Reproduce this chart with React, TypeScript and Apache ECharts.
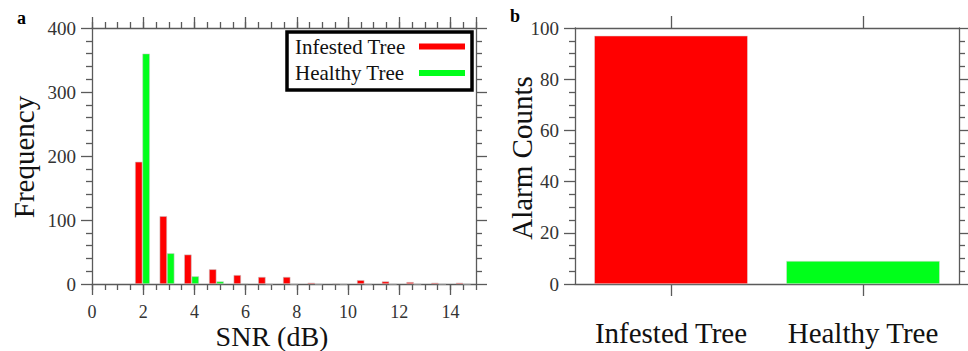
import React, { useEffect, useRef } from "react";
import * as echarts from "echarts";

const binCenters = [1.97, 2.93, 3.89, 4.86, 5.82, 6.78, 7.75, 8.71, 9.68, 10.64, 11.61, 12.57, 13.54, 14.5];
const infestedFreq = [191, 106, 46, 23, 14, 11, 11, 2, 1, 6, 4, 3, 2, 2];
const healthyFreq = [360, 48, 12, 4, 1, 0, 0, 0, 0, 0, 0, 0, 0, 0];
const treeCategories = ["Infested Tree", "Healthy Tree"];
const alarmCounts = [97, 9];
const legendLabels = ["Infested Tree", "Healthy Tree"];

const RED = "#ff0000";
const GREEN = "#00ff1a";
const AXIS = "#5a5a5a";
const FONT = "'Liberation Serif', 'Times New Roman', serif";

export default function App() {
  const ref = useRef<HTMLDivElement>(null);
  useEffect(() => {
    document.body.style.margin = "0";
    const chart = echarts.init(ref.current!, null, { renderer: "svg" });
    const axisLine = { show: true, onZero: false, lineStyle: { color: AXIS, width: 1.3 } };
    const tickStyle = { color: AXIS, width: 1.3 };
    const tickLabel = { color: "#333", fontSize: 19, lineHeight: 16, fontFamily: FONT };
    const noLabel = { show: false };

    const option: any = {
      animation: false,
      backgroundColor: "#fff",
      grid: [
        { left: 92, top: 28, width: 384, height: 256 },
        { left: 575, top: 28, width: 384, height: 256 },
      ],
      xAxis: [
        {
          gridIndex: 0, type: "value", position: "bottom", min: 0, max: 15, interval: 2,
          axisLine, splitLine: { show: false },
          axisTick: { show: true, length: 11, lineStyle: tickStyle },
          axisLabel: { ...tickLabel, fontSize: 18, margin: 20, showMaxLabel: false,
            formatter: (v: number) => (v % 2 === 0 ? String(v) : "") },
        },
        {
          gridIndex: 0, type: "value", position: "bottom", min: 0, max: 15, interval: 0.5,
          axisLine: { show: false, onZero: false }, splitLine: { show: false },
          axisTick: { show: true, length: 6, lineStyle: tickStyle },
          axisLabel: noLabel,
        },
        {
          gridIndex: 0, type: "value", position: "top", min: 0, max: 15, interval: 2,
          axisLine, splitLine: { show: false },
          axisTick: { show: true, length: 11, lineStyle: tickStyle },
          axisLabel: noLabel,
        },
        {
          gridIndex: 0, type: "value", position: "top", min: 0, max: 15, interval: 0.5,
          axisLine: { show: false, onZero: false }, splitLine: { show: false },
          axisTick: { show: true, length: 6, lineStyle: tickStyle },
          axisLabel: noLabel,
        },
        {
          gridIndex: 1, type: "category", position: "bottom", data: treeCategories,
          axisLine, splitLine: { show: false },
          axisTick: { show: true, alignWithLabel: true, length: 12, lineStyle: tickStyle },
          axisLabel: { color: "#111", fontSize: 29, fontFamily: FONT, margin: 36, interval: 0, lineHeight: 26 },
        },
        {
          gridIndex: 1, type: "category", position: "top", data: treeCategories,
          axisLine, splitLine: { show: false },
          axisTick: { show: true, alignWithLabel: true, length: 12, lineStyle: tickStyle },
          axisLabel: noLabel,
        },
      ],
      yAxis: [
        {
          gridIndex: 0, type: "value", position: "left", min: 0, max: 400, interval: 100,
          axisLine, splitLine: { show: false },
          axisTick: { show: true, length: 11, lineStyle: tickStyle },
          minorTick: { show: true, splitNumber: 5, length: 6, lineStyle: tickStyle },
          minorSplitLine: { show: false },
          axisLabel: { ...tickLabel, margin: 16 },
        },
        {
          gridIndex: 0, type: "value", position: "right", min: 0, max: 400, interval: 100,
          axisLine, splitLine: { show: false },
          axisTick: { show: true, length: 11, lineStyle: tickStyle },
          minorTick: { show: true, splitNumber: 5, length: 6, lineStyle: tickStyle },
          axisLabel: noLabel,
        },
        {
          gridIndex: 1, type: "value", position: "left", min: 0, max: 100, interval: 20,
          axisLine, splitLine: { show: false },
          axisTick: { show: true, length: 11, lineStyle: tickStyle },
          minorTick: { show: true, splitNumber: 4, length: 6, lineStyle: tickStyle },
          axisLabel: { ...tickLabel, margin: 16 },
        },
        {
          gridIndex: 1, type: "value", position: "right", min: 0, max: 100, interval: 20,
          axisLine, splitLine: { show: false },
          axisTick: { show: true, length: 11, lineStyle: tickStyle },
          minorTick: { show: true, splitNumber: 4, length: 6, lineStyle: tickStyle },
          axisLabel: noLabel,
        },
      ],
      series: [
        {
          name: legendLabels[0], type: "bar", xAxisIndex: 0, yAxisIndex: 0,
          data: binCenters.map((c, i) => [c, infestedFreq[i]]),
          barWidth: 7.4, barGap: "0%",
          itemStyle: { color: RED, borderColor: "rgba(200,200,200,0.9)", borderWidth: 0.6 },
        },
        {
          name: legendLabels[1], type: "bar", xAxisIndex: 0, yAxisIndex: 0,
          data: binCenters.map((c, i) => [c, healthyFreq[i]]),
          barWidth: 7.4, barGap: "0%",
          itemStyle: { color: GREEN, borderColor: "rgba(200,200,200,0.9)", borderWidth: 0.6 },
        },
        {
          type: "bar", xAxisIndex: 4, yAxisIndex: 2, barWidth: "80%",
          data: alarmCounts.map((v, i) => ({ value: v, itemStyle: { color: i === 0 ? RED : GREEN } })),
          itemStyle: { borderColor: "rgba(220,220,220,0.9)", borderWidth: 0.6 },
        },
      ],
      graphic: [
        { type: "text", left: 17, top: 9, style: { text: "a", font: `bold 18px ${FONT}`, fill: "#000" } },
        { type: "text", left: 510, top: 7, style: { text: "b", font: `bold 18px ${FONT}`, fill: "#000" } },
        {
          type: "text", x: 24, y: 157, rotation: Math.PI / 2,
          style: { text: "Frequency", font: `29px ${FONT}`, fill: "#111", align: "center", verticalAlign: "middle", lineHeight: 26 },
        },
        {
          type: "text", x: 522, y: 158, rotation: Math.PI / 2,
          style: { text: "Alarm Counts", font: `29px ${FONT}`, fill: "#111", align: "center", verticalAlign: "middle", lineHeight: 26 },
        },
        {
          type: "text", x: 272, y: 336,
          style: { text: "SNR (dB)", font: `28px ${FONT}`, fill: "#111", align: "center", verticalAlign: "middle", lineHeight: 24 },
        },
        {
          type: "rect", shape: { x: 287, y: 32, width: 185, height: 58 },
          style: { fill: "#fff", stroke: "#000", lineWidth: 3.5 }, z: 100,
        },
        {
          type: "text", x: 295, y: 47, z: 101,
          style: { text: legendLabels[0], font: `21px ${FONT}`, fill: "#111", verticalAlign: "middle" },
        },
        {
          type: "text", x: 295, y: 73, z: 101,
          style: { text: legendLabels[1], font: `21px ${FONT}`, fill: "#111", verticalAlign: "middle" },
        },
        { type: "rect", shape: { x: 419, y: 43.5, width: 46, height: 6 }, style: { fill: RED }, z: 101 },
        { type: "rect", shape: { x: 419, y: 70, width: 46, height: 6 }, style: { fill: GREEN }, z: 101 },
      ],
    };
    chart.setOption(option);
    return () => chart.dispose();
  }, []);
  return <div ref={ref} style={{ width: 968, height: 351 }} />;
}
